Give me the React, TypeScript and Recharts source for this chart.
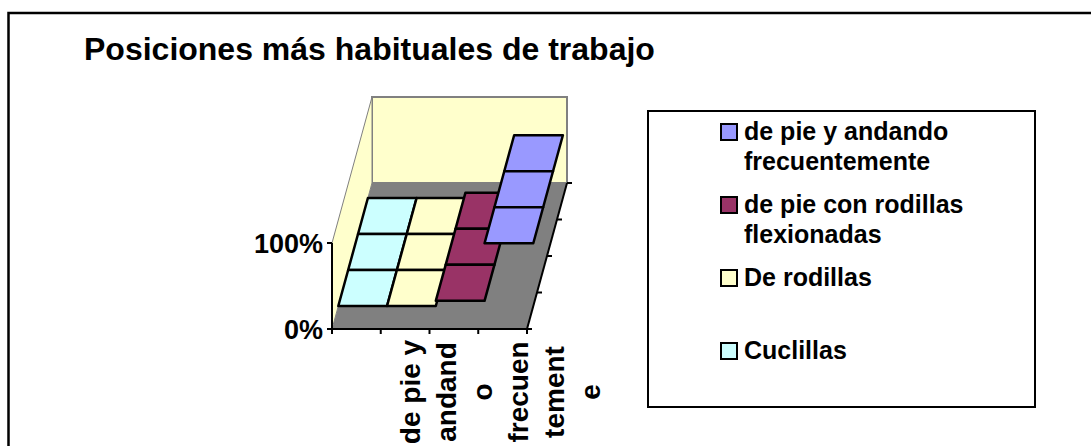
import React from 'react';
import { BarChart, Bar, XAxis, YAxis, Legend } from 'recharts';

const depthRows = ['fila 1', 'fila 2', 'fila 3'];
const cuclillas = [25, 25, 25];
const deRodillas = [25, 25, 25];
const rodillasFlexionadas = [25, 25, 25];
const andando = [25, 25, 25];

// how far each series floats above the floor, in % of the value axis
const seriesLift = [0, 0, 6, 73];

const seriesNames = ['Cuclillas', 'De rodillas', 'de pie con rodillas flexionadas', 'de pie y andando frecuentemente'];
const seriesColors = ['#CCFFFF', '#FFFFCC', '#993366', '#9999FF'];
const seriesValues = [cuclillas, deRodillas, rodillasFlexionadas, andando];
const legendLines = [['de pie y andando', 'frecuentemente'], ['de pie con rodillas', 'flexionadas'], ['De rodillas'], ['Cuclillas']];
const axisLabelLines = ['de pie y', 'andand', 'o', 'frecuen', 'tement', 'e'];
const xTicks = [0, 25, 50, 75, 100];
const pctTicks = [0, 100];

const data = depthRows.map((row, i) => {
  const item: Record<string, any> = { row };
  seriesNames.forEach((name, s) => { item[name] = seriesValues[s][i]; });
  return item;
});

const FONT = '"Liberation Sans", Arial, sans-serif';
const WIDTH = 1091;
const HEIGHT = 446;
const plot = { left: 332, top: 183, width: 195, height: 146 };
const plotBottom = plot.top + plot.height;
const slant = 40 / 146; // horizontal drift per pixel of depth
const pctHeight = 86; // px from 0% to 100%
const wallHeight = 86;

function TileShape(props: any) {
  const { x, y, width, height, lift } = props;
  const raise = (lift / 100) * pctHeight;
  const front = plotBottom - (y + height);
  const back = front + height;
  const pts = [
    [x + front * slant, y + height - raise],
    [x + width + front * slant, y + height - raise],
    [x + width + back * slant, y - raise],
    [x + back * slant, y - raise],
  ];
  return <polygon points={pts.map((p) => p.join(',')).join(' ')} fill={props.fill} stroke="#000" strokeWidth={2.5} strokeLinejoin="round" />;
}

function Frame() {
  const l = plot.left;
  const r = plot.left + plot.width;
  const shift = plot.height * slant;
  const depthTicks = [0, 1, 2, 3, 4];
  return (
    <g>
      <rect x={8.5} y={13} width={1200} height={600} fill="#fff" stroke="#000" strokeWidth={2.5} />
      <text x={84} y={60} fontFamily={FONT} fontWeight="bold" fontSize={32} fill="#000">Posiciones más habituales de trabajo</text>
      <polygon points={`${l},${plotBottom} ${r},${plotBottom} ${r + shift},${plot.top} ${l + shift},${plot.top}`} fill="#808080" />
      <polygon points={`${l + shift},${plot.top - wallHeight} ${r + shift},${plot.top - wallHeight} ${r + shift},${plot.top} ${l + shift},${plot.top}`} fill="#FFFFCC" stroke="#808080" strokeWidth={2} />
      <polygon points={`${l},${plotBottom - pctHeight} ${l + shift},${plot.top - wallHeight} ${l + shift},${plot.top} ${l},${plotBottom}`} fill="#FFFFCC" stroke="#808080" strokeWidth={1} />
      <line x1={l} y1={plotBottom - pctHeight} x2={l} y2={plotBottom} stroke="#000" strokeWidth={2} />
      <line x1={r} y1={plotBottom} x2={r + shift} y2={plot.top} stroke="#000" strokeWidth={2} />
      {depthTicks.map((t) => {
        const d = (t * plot.height) / 4;
        return <line key={t} x1={r + d * slant} y1={plotBottom - d} x2={r + d * slant + 5} y2={plotBottom - d} stroke="#000" strokeWidth={2} />;
      })}
      {pctTicks.map((t) => {
        const py = plotBottom - (t / 100) * pctHeight;
        return (
          <g key={t}>
            <line x1={l - 5} y1={py} x2={l} y2={py} stroke="#000" strokeWidth={2} />
            <text x={l - 9} y={py + 10} textAnchor="end" fontFamily={FONT} fontWeight="bold" fontSize={27} fill="#000">{`${t}%`}</text>
          </g>
        );
      })}
    </g>
  );
}

function AxisTick(props: any) {
  const { x, payload } = props;
  if (payload.value !== 75) return null;
  return (
    <g>
      {axisLabelLines.map((line, i) => {
        const lx = x - 58 + i * 36;
        return (
          <text key={i} x={lx} y={392} transform={`rotate(-90 ${lx} 392)`} textAnchor="middle" fontFamily={FONT} fontWeight="bold" fontSize={28} fill="#000">{line}</text>
        );
      })}
    </g>
  );
}

function LegendBox(props: any) {
  const entries = [...(props.payload || [])].reverse();
  const tops = [123, 196, 269, 342];
  return (
    <div style={{ position: 'relative', width: 385, height: 294, border: '2px solid #000', background: '#fff', fontFamily: FONT, fontWeight: 'bold', fontSize: 25, lineHeight: '30px', color: '#000' }}>
      {entries.map((e: any, i: number) => (
        <div key={e.value}>
          <div style={{ position: 'absolute', left: 71, top: tops[i] - 110 - 2, width: 14, height: 14, background: e.color, border: '2px solid #000' }} />
          <div style={{ position: 'absolute', left: 95, top: tops[i] - 110 - 9, whiteSpace: 'nowrap' }}>
            {legendLines[i].map((t) => <div key={t}>{t}</div>)}
          </div>
        </div>
      ))}
    </div>
  );
}

export default function App() {
  return (
    <div style={{ position: 'absolute', left: 0, top: 0, width: WIDTH, height: HEIGHT, overflow: 'hidden', background: '#fff' }}>
      <BarChart
        layout="vertical"
        width={WIDTH}
        height={HEIGHT}
        data={data}
        barCategoryGap={0}
        margin={{ top: plot.top, left: plot.left, right: WIDTH - plot.left - plot.width, bottom: 0 }}
      >
        <Frame />
        <XAxis
          type="number"
          domain={[0, 100]}
          ticks={xTicks}
          height={HEIGHT - plotBottom}
          stroke="#000"
          strokeWidth={2}
          tickSize={5}
          interval={0}
          tick={<AxisTick />}
        />
        <YAxis type="category" dataKey="row" hide width={0} padding={{ top: 15, bottom: 23 }} />
        {seriesNames.map((name, s) => (
          <Bar
            key={name}
            dataKey={name}
            stackId="a"
            fill={seriesColors[s]}
            isAnimationActive={false}
            shape={<TileShape lift={seriesLift[s]} />}
          />
        ))}
        <Legend
          layout="horizontal"
          verticalAlign="middle"
          wrapperStyle={{ left: 647, top: 110, width: 389, height: 298 }}
          content={<LegendBox />}
        />
      </BarChart>
    </div>
  );
}
